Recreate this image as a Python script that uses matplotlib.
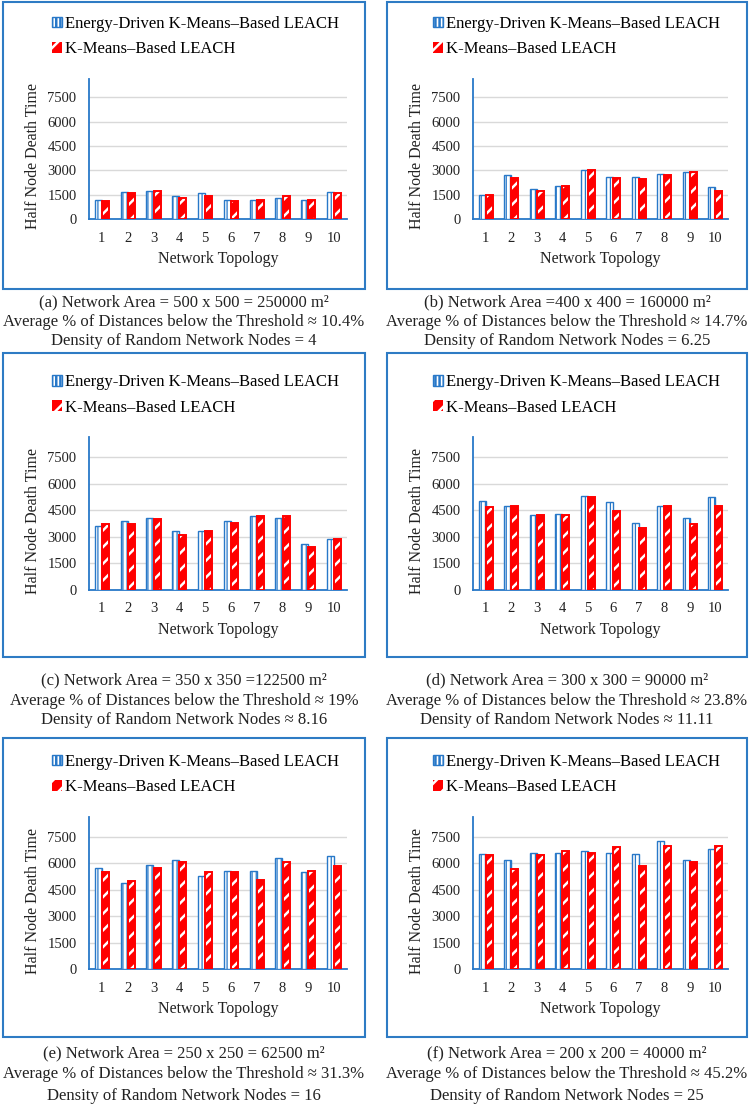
import numpy as np
import matplotlib.pyplot as plt
from matplotlib.patches import Rectangle

plt.rcParams['font.family'] = ['Liberation Serif', 'DejaVu Serif']

# data
topology = np.arange(1, 11)
yticks = [0, 1500, 3000, 4500, 6000, 7500]
series_names = ['Energy-Driven K-Means\u2013Based LEACH', 'K-Means\u2013Based LEACH']

energy_a = [1200, 1650, 1750, 1400, 1600, 1200, 1200, 1300, 1200, 1650]
kmeans_a = [1100, 1600, 1700, 1300, 1400, 1100, 1200, 1400, 1200, 1600]
energy_b = [1500, 2700, 1850, 2050, 3000, 2600, 2600, 2800, 2900, 1950]
kmeans_b = [1500, 2550, 1750, 2050, 3000, 2550, 2450, 2700, 2900, 1750]
energy_c = [3600, 3900, 4050, 3350, 3350, 3900, 4150, 4050, 2600, 2850]
kmeans_c = [3750, 3750, 4000, 3100, 3350, 3800, 4150, 4150, 2400, 2850]
energy_d = [5000, 4750, 4250, 4300, 5300, 4950, 3800, 4750, 4050, 5250]
kmeans_d = [4700, 4750, 4250, 4250, 5250, 4450, 3500, 4750, 3750, 4750]
energy_e = [5750, 4900, 5900, 6200, 5300, 5550, 5550, 6300, 5500, 6400]
kmeans_e = [5500, 5000, 5750, 6100, 5500, 5500, 5050, 6100, 5550, 5850]
energy_f = [6550, 6200, 6600, 6600, 6700, 6600, 6550, 7250, 6200, 6800]
kmeans_f = [6450, 5650, 6450, 6700, 6600, 6900, 5850, 7000, 6100, 7000]

captions_a = ['(a) Network Area = 500 x 500 = 250000 m\u00b2',
              'Average % of Distances below the Threshold \u2248 10.4%',
              'Density of Random Network Nodes = 4']
captions_b = ['(b) Network Area =400 x 400 = 160000 m\u00b2',
              'Average % of Distances below the Threshold \u2248 14.7%',
              'Density of Random Network Nodes = 6.25']
captions_c = ['(c) Network Area = 350 x 350 =122500 m\u00b2',
              'Average % of Distances below the Threshold \u2248 19%',
              'Density of Random Network Nodes \u2248 8.16']
captions_d = ['(d) Network Area = 300 x 300 = 90000 m\u00b2',
              'Average % of Distances below the Threshold \u2248 23.8%',
              'Density of Random Network Nodes \u2248 11.11']
captions_e = ['(e) Network Area = 250 x 250 = 62500 m\u00b2',
              'Average % of Distances below the Threshold \u2248 31.3%',
              'Density of Random Network Nodes = 16']
captions_f = ['(f) Network Area = 200 x 200 = 40000 m\u00b2',
              'Average % of Distances below the Threshold \u2248 45.2%',
              'Density of Random Network Nodes = 25']

blue = '#2878c8'
red = '#ff0000'
frame_blue = '#2e7bc4'

W, H = 750, 1105
fig = plt.figure(figsize=(W / 100, H / 100), dpi=100)

def fx(x):
    return x / W

def fy(y):
    return 1 - y / H

# pixel layout: columns and rows
cols = [dict(box=(3, 365), ax=(89, 347), cap=184, leg=56),
        dict(box=(387, 747), ax=(473, 728), cap=567, leg=437)]
rows = [dict(box=(2, 289), ax=(79, 219), leg=36.5, cap=(302, 322, 341)),
        dict(box=(353, 657), ax=(437, 590), leg=395, cap=(680, 701, 720)),
        dict(box=(738, 1037), ax=(817, 969), leg=774.5, cap=(1053, 1074, 1096))]

panels = [(energy_a, kmeans_a, captions_a), (energy_b, kmeans_b, captions_b),
          (energy_c, kmeans_c, captions_c), (energy_d, kmeans_d, captions_d),
          (energy_e, kmeans_e, captions_e), (energy_f, kmeans_f, captions_f)]

w = 0.27
for k, (energy, kmeans, caps) in enumerate(panels):
    c = cols[k % 2]
    r = rows[k // 2]

    # blue frame around chart
    bx0, bx1 = c['box']
    by0, by1 = r['box']
    fig.patches.append(Rectangle((fx(bx0), fy(by1)), (bx1 - bx0) / W, (by1 - by0) / H,
                                 transform=fig.transFigure, fill=False,
                                 edgecolor=frame_blue, lw=1.5))

    ax0, ax1 = c['ax']
    ay0, ay1 = r['ax']
    ax = fig.add_axes([fx(ax0), fy(ay1), (ax1 - ax0) / W, (ay1 - ay0) / H])

    plt.rcParams['hatch.linewidth'] = 0.9
    b1 = ax.bar(topology - 0.14, energy, w, facecolor='white', edgecolor=blue,
                hatch='||||', lw=1.0, zorder=3, label=series_names[0])
    plt.rcParams['hatch.linewidth'] = 1.8
    ax.bar(topology + 0.14, kmeans, w, facecolor=red, edgecolor='white',
           hatch='//', lw=0, zorder=3)
    ax.bar(topology + 0.14, kmeans, w, fill=False, edgecolor=red, lw=1.4, zorder=4)
    # proxy for legend
    b2 = ax.bar([0], [0], 0.1, facecolor=red, edgecolor='white', hatch='//',
                lw=0, label=series_names[1])

    ax.set_xlim(0.5, 10.5)
    ax.set_ylim(0, 8630)
    ax.set_xticks(topology)
    ax.set_yticks(yticks)
    ax.tick_params(length=0, labelsize=10.5, colors='#222222')
    ax.tick_params(axis='y', pad=9)
    ax.tick_params(axis='x', pad=9)
    ax.grid(axis='y', color='#d9d9d9', lw=1.0, zorder=0)
    ax.set_axisbelow(True)
    for s in ['top', 'right']:
        ax.spines[s].set_visible(False)
    for s in ['left', 'bottom']:
        ax.spines[s].set_color(blue)
        ax.spines[s].set_linewidth(1.3)

    ax.set_ylabel('Half Node Death Time', fontsize=11.5, color='#222222')
    ax.yaxis.set_label_coords(-56 / (ax1 - ax0), 0.45)
    ax.yaxis.label.set_va('center')
    ax.set_xlabel('Network Topology', fontsize=11.5, color='#222222')
    ax.xaxis.set_label_coords(0.5, -40 / (ay1 - ay0))
    ax.xaxis.label.set_va('center')

    ax.legend(handles=[b1, b2], loc='center left',
              bbox_to_anchor=(fx(c['leg']) - 0.006, fy(r['leg'])),
              bbox_transform=fig.transFigure, frameon=False, fontsize=12,
              handlelength=0.6, handleheight=0.6, handletextpad=0.2,
              labelspacing=0.55, borderpad=0, borderaxespad=0)

    for line, yy in zip(caps, r['cap']):
        fig.text(fx(c['cap']), fy(yy), line, ha='center', va='center',
                 fontsize=12, color='#222222')

fig.savefig('out.png', dpi=100)
